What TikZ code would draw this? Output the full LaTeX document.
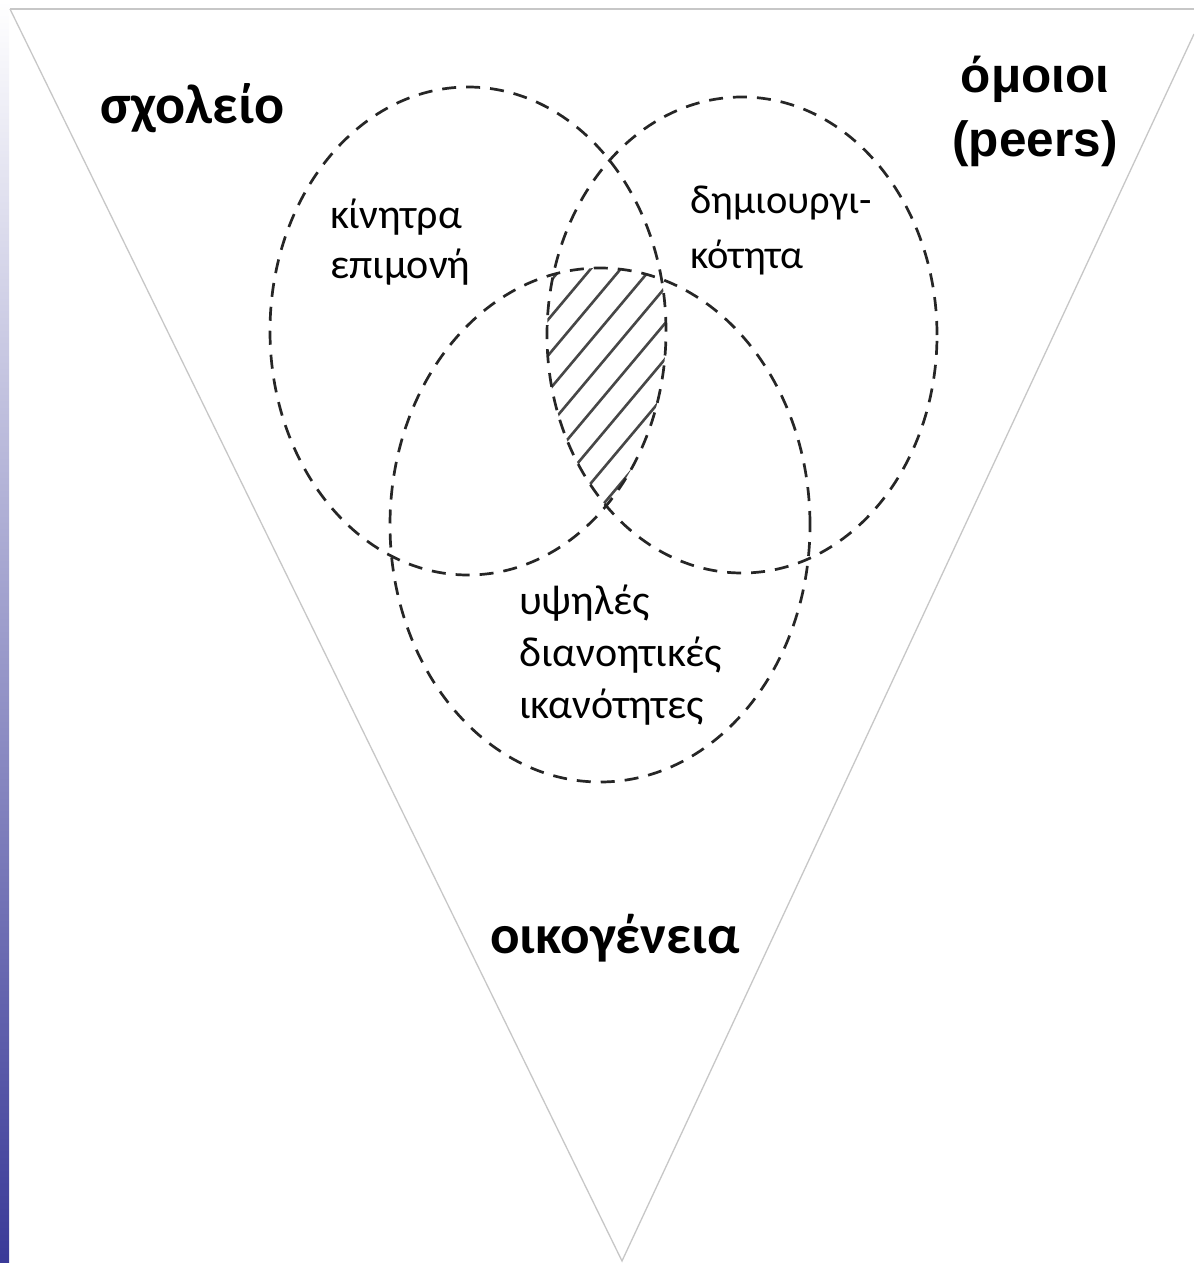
\documentclass[tikz,border=0pt]{standalone}
\usepackage{fontspec}
\setmainfont{Carlito}
\newfontfamily\arialf{Liberation Sans}
\begin{document}
\begin{tikzpicture}[x=1pt,y=-1pt,
  vennline/.style={line width=2.7pt, dash pattern=on 14pt off 10pt, black!85},
  edgeline/.style={draw=black!22, line width=1.3pt},
  hatchline/.style={line width=2.6pt, black!72},
  biglabel/.style={font=\fontsize{56}{66}\selectfont\bfseries, inner sep=0, anchor=base west},
  inlabel/.style={font=\fontsize{42}{50}\selectfont, inner sep=0, anchor=base west}]
\useasboundingbox (0,0) rectangle (1194,1263);
\clip (0,0) rectangle (1194,1263);
\fill[white] (0,0) rectangle (1194,1263);
\shade[top color=white, bottom color={rgb,255:red,58;green,58;blue,152}] (0,0) rectangle (9,1263);
% triangle frame
\coordinate (tl) at (10,9);
\coordinate (trtop) at (1194,9);
\coordinate (trside) at (1194,34);
\coordinate (apex) at (622,1261);
\draw[edgeline] (tl) -- (trtop);
\draw[edgeline] (tl) -- (apex) -- (trside);
% hatched triple intersection
\begin{scope}
\clip (468,331) ellipse [x radius=198pt, y radius=244pt];
\clip (742,335) ellipse [x radius=195pt, y radius=238pt];
\clip (600,525) ellipse [x radius=210pt, y radius=257pt];
\foreach \i in {-20,...,20} \draw[hatchline] (500+30*\i, 520) -- ++(300,-357.5);
\end{scope}
% ellipses
\draw[vennline] (468,331) ellipse [x radius=198pt, y radius=244pt];
\draw[vennline] (742,335) ellipse [x radius=195pt, y radius=238pt];
\draw[vennline] (600,525) ellipse [x radius=210pt, y radius=257pt];
% labels
\node[biglabel] (school) at (100,123) {σχολείο};
\node[biglabel, font=\fontsize{55}{66}\selectfont\bfseries] (family) at (490,953) {οικογένεια};
\node[font=\arialf\fontsize{49.5}{64}\selectfont\bfseries, inner sep=0, align=center, anchor=north] (peers) at (1035,56) {όμοιοι\\(peers)};
\node[inlabel] (mot1) at (330,228) {κίνητρα};
\node[inlabel] (mot2) at (330,278) {επιμονή};
\node[inlabel, font=\fontsize{40.5}{50}\selectfont] (cre1) at (690,213) {δημιουργι-};
\node[inlabel, font=\fontsize{40.5}{50}\selectfont] (cre2) at (690,268) {κότητα};
\node[inlabel] (int1) at (519,614) {υψηλές};
\node[inlabel] (int2) at (519,666) {διανοητικές};
\node[inlabel] (int3) at (519,718) {ικανότητες};
\end{tikzpicture}
\end{document}
